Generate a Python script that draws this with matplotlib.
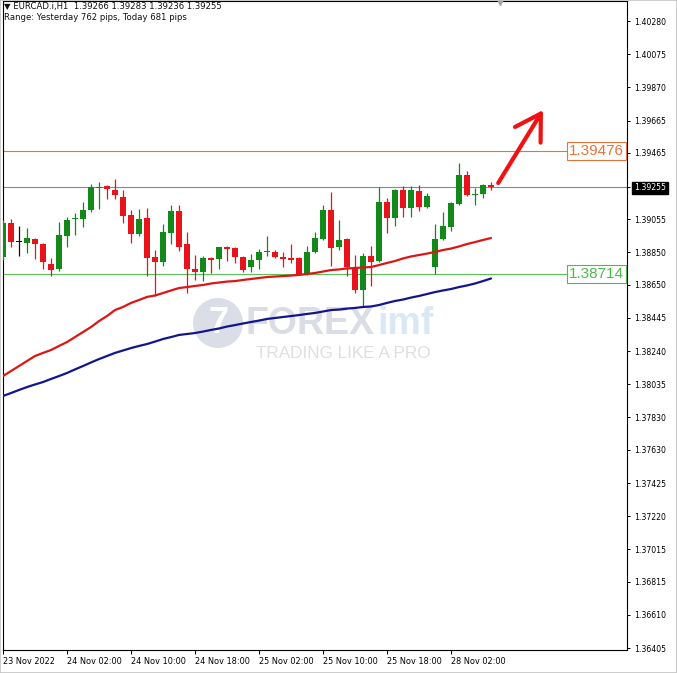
import matplotlib
matplotlib.use("Agg")
import matplotlib.pyplot as plt
import matplotlib.transforms as mtransforms
from matplotlib.patches import Circle, Rectangle
import numpy as np

plt.rcParams['font.family'] = ['DejaVu Sans']

# ---------------- data ----------------
header_line1 = "\u25BC EURCAD.i,H1  1.39266 1.39283 1.39236 1.39255"
header_line2 = "Range: Yesterday 762 pips, Today 681 pips"

opens = [1.38822, 1.39032, 1.38914, 1.38908, 1.38933, 1.38902, 1.38779, 1.38748, 1.38952, 1.39057,
         1.39057, 1.39112, 1.39248, 1.39261, 1.39236, 1.39193, 1.39081, 1.38964, 1.39063, 1.38822,
         1.38791, 1.38970, 1.39106, 1.38902, 1.38748, 1.38729, 1.38816, 1.38809, 1.38884, 1.38877,
         1.38822, 1.38760, 1.38803, 1.38853, 1.38853, 1.38822, 1.38816, 1.38816, 1.38717, 1.38853,
         1.38933, 1.39112, 1.38884, 1.38933, 1.38760, 1.38618, 1.38828, 1.38797, 1.39162, 1.39063,
         1.39236, 1.39125, 1.39230, 1.39131, 1.38760, 1.38933, 1.39007, 1.39149, 1.39328, 1.39205,
         1.39211, 1.39266]
highs = [1.39050, 1.39057, 1.39013, 1.39001, 1.38939, 1.38908, 1.38816, 1.39038, 1.39069, 1.39094,
         1.39162, 1.39273, 1.39285, 1.39267, 1.39304, 1.39236, 1.39112, 1.39118, 1.39125, 1.38865,
         1.39026, 1.39143, 1.39143, 1.38976, 1.38834, 1.38828, 1.38822, 1.38884, 1.38890, 1.38884,
         1.38828, 1.38840, 1.38871, 1.38952, 1.38865, 1.38853, 1.38902, 1.38822, 1.38890, 1.38976,
         1.39143, 1.39223, 1.39050, 1.38939, 1.38834, 1.38847, 1.38890, 1.39254, 1.39186, 1.39242,
         1.39261, 1.39261, 1.39267, 1.39217, 1.39026, 1.39100, 1.39161, 1.39403, 1.39353, 1.39248,
         1.39270, 1.39283]
lows = [1.38803, 1.38883, 1.38828, 1.38847, 1.38810, 1.38748, 1.38704, 1.38735, 1.38884, 1.38958,
        1.39007, 1.39100, 1.39118, 1.39180, 1.39180, 1.39032, 1.38908, 1.38952, 1.38704, 1.38581,
        1.38766, 1.38902, 1.38859, 1.38599, 1.38680, 1.38673, 1.38723, 1.38748, 1.38797, 1.38785,
        1.38729, 1.38729, 1.38748, 1.38828, 1.38816, 1.38760, 1.38785, 1.38710, 1.38710, 1.38847,
        1.38927, 1.38766, 1.38865, 1.38704, 1.38599, 1.38519, 1.38643, 1.38791, 1.38970, 1.39013,
        1.39069, 1.39069, 1.39106, 1.39125, 1.38717, 1.38927, 1.38982, 1.39143, 1.39199, 1.39143,
        1.39186, 1.39236]
closes = [1.39032, 1.38914, 1.38914, 1.38939, 1.38902, 1.38791, 1.38741, 1.38958, 1.39050, 1.39058,
          1.39112, 1.39254, 1.39254, 1.39242, 1.39205, 1.39075, 1.38964, 1.39057, 1.38816, 1.38791,
          1.38976, 1.39106, 1.38884, 1.38748, 1.38729, 1.38816, 1.38803, 1.38884, 1.38871, 1.38822,
          1.38741, 1.38803, 1.38853, 1.38859, 1.38822, 1.38809, 1.38803, 1.38717, 1.38853, 1.38939,
          1.39112, 1.38877, 1.38927, 1.38760, 1.38618, 1.38828, 1.38791, 1.39162, 1.39063, 1.39236,
          1.39125, 1.39236, 1.39131, 1.39199, 1.38933, 1.39013, 1.39155, 1.39328, 1.39205, 1.39211,
          1.39267, 1.39255]

ma_fast = [1.38086, 1.38117, 1.38148, 1.38179, 1.38210, 1.38229, 1.38247, 1.38272, 1.38296, 1.38327,
           1.38358, 1.38389, 1.38426, 1.38457, 1.38494, 1.38513, 1.38538, 1.38556, 1.38575, 1.38584,
           1.38599, 1.38615, 1.38630, 1.38636, 1.38643, 1.38649, 1.38658, 1.38664, 1.38670, 1.38673,
           1.38680, 1.38686, 1.38692, 1.38698, 1.38701, 1.38704, 1.38707, 1.38711, 1.38717, 1.38723,
           1.38732, 1.38741, 1.38745, 1.38751, 1.38754, 1.38757, 1.38760, 1.38772, 1.38785, 1.38797,
           1.38813, 1.38825, 1.38834, 1.38843, 1.38853, 1.38865, 1.38874, 1.38887, 1.38902, 1.38914,
           1.38927, 1.38939]
ma_slow = [1.37963, 1.37981, 1.38000, 1.38018, 1.38034, 1.38049, 1.38068, 1.38086, 1.38105, 1.38127,
           1.38148, 1.38170, 1.38191, 1.38210, 1.38229, 1.38244, 1.38259, 1.38272, 1.38284, 1.38299,
           1.38315, 1.38327, 1.38340, 1.38346, 1.38352, 1.38361, 1.38371, 1.38380, 1.38392, 1.38401,
           1.38411, 1.38420, 1.38429, 1.38439, 1.38445, 1.38451, 1.38457, 1.38463, 1.38470, 1.38476,
           1.38485, 1.38494, 1.38497, 1.38503, 1.38507, 1.38513, 1.38516, 1.38525, 1.38538, 1.38550,
           1.38559, 1.38571, 1.38581, 1.38593, 1.38605, 1.38615, 1.38624, 1.38636, 1.38646, 1.38658,
           1.38673, 1.38689]

resistance_level = 1.39476
support_level = 1.38714
last_price = 1.39255

ytick_values = [1.40280, 1.40075, 1.39870, 1.39665, 1.39465, 1.39255, 1.39055, 1.38850, 1.38650,
                1.38445, 1.38240, 1.38035, 1.37830, 1.37630, 1.37425, 1.37220, 1.37015, 1.36815,
                1.36610, 1.36405]
xtick_bars = [0, 8, 16, 24, 32, 40, 48, 56]
xtick_labels = ["23 Nov 2022", "24 Nov 02:00", "24 Nov 10:00", "24 Nov 18:00",
                "25 Nov 02:00", "25 Nov 10:00", "25 Nov 18:00", "28 Nov 02:00"]

arrow_start = (61.9, 1.39279)
arrow_end = (67.5, 1.39730)

# ---------------- figure ----------------
W, H = 677, 673
fig = plt.figure(figsize=(W / 100, H / 100), dpi=100)
fig.patch.set_facecolor('white')
ax = fig.add_axes([3 / W, 1 - 650 / H, 624 / W, 649 / H])
ax.set_xlim(0, 78)
ax.set_ylim(1.36393, 1.40404)

GREEN = '#13891a'
RED = '#e8141c'

x = np.arange(len(opens))
o = np.array(opens); h = np.array(highs); l = np.array(lows); c = np.array(closes)
cols = np.where(c > o, GREEN, np.where(c < o, RED, '#111111'))

# horizontal levels
ax.axhline(resistance_level, color='#e8733a', lw=0.8, zorder=2)
ax.axhline(last_price, color='#7d8a97', lw=0.8, zorder=2)
ax.axhline(support_level, color='#5cc05c', lw=0.8, zorder=2)

# candles
ax.vlines(x, l, h, colors=cols, lw=0.9, zorder=3)
body_bottom = np.minimum(o, c)
body_h = np.maximum(np.abs(c - o), 0.00004)
ax.bar(x, body_h, bottom=body_bottom, width=0.7, color=cols, lw=0, zorder=3)

# moving averages
ax.plot(x, ma_fast, color='#de1515', lw=1.6, zorder=4, solid_capstyle='round')
ax.plot(x, ma_slow, color='#14148f', lw=1.6, zorder=4, solid_capstyle='round')

# level labels
blend = mtransforms.blended_transform_factory(ax.transAxes, ax.transData)
for val, col in [(resistance_level, '#e8733a'), (support_level, '#4cba4c')]:
    ax.annotate(f"{val:.5f}", xy=(1, val), xycoords=blend, xytext=(-3, 0),
                textcoords='offset pixels', ha='right', va='center',
                fontsize=11, family='Liberation Sans', color=col, zorder=6,
                bbox=dict(boxstyle='square,pad=0.13', fc='white', ec=col, lw=0.8))

# arrow
ax.annotate('', xy=arrow_end, xytext=arrow_start,
            arrowprops=dict(arrowstyle='->,head_length=1.2,head_width=0.72',
                            color='#f01212', lw=3.0, shrinkA=0, shrinkB=0,
                            mutation_scale=15, capstyle='round', joinstyle='round'),
            annotation_clip=False, zorder=7)

# watermark
def fx(px):
    return px / W

def fy(py):
    return 1 - py / H

ax.add_patch(Circle((218, H - 323), 25, transform=mtransforms.IdentityTransform(),
                    fc='#dcdee7', ec='none', zorder=1))
ax.text(fx(219), fy(323), "7", transform=fig.transFigure, ha='center', va='center',
        fontsize=26, fontweight='bold', family='Liberation Sans', color='white', zorder=1)
ax.text(fx(246), fy(324), "FOREX", transform=fig.transFigure, ha='left', va='center',
        fontsize=27, fontweight='bold', family='Liberation Sans', color='#dadce6', zorder=1)
ax.text(fx(377), fy(324), "imf", transform=fig.transFigure, ha='left', va='center',
        fontsize=27, fontweight='bold', family='Liberation Sans', color='#d9e8f4', zorder=1)
ax.text(fx(256), fy(354), "TRADING LIKE A PRO", transform=fig.transFigure, ha='left',
        va='center', fontsize=12.3, family='Liberation Sans', color='#dfdfdf', zorder=1)

# header
fig.text(fx(4), fy(7), header_line1, ha='left', va='center', fontsize=6.1, color='#111111')
fig.text(fx(4), fy(18), header_line2, ha='left', va='center', fontsize=6.1, color='#111111')

# shift marker
ax.plot([(500 - 3) / 624], [1.0], marker='v', ms=6, color='#a5a5a5',
        transform=ax.transAxes, clip_on=False, zorder=8)

# axes styling
for sp in ax.spines.values():
    sp.set_color('black')
    sp.set_linewidth(0.8)
ax.yaxis.tick_right()
ax.set_yticks(ytick_values)
ax.set_yticklabels([f"{v:.5f}" for v in ytick_values])
ax.tick_params(axis='y', direction='out', length=2.5, width=0.7, pad=2.5,
               labelsize=5.6, colors='black')
ax.set_xticks(xtick_bars)
ax.set_xticklabels(xtick_labels, ha='left')
ax.tick_params(axis='x', direction='out', length=3, width=0.7, pad=2,
               labelsize=5.9, colors='black')
for lbl, v in zip(ax.get_yticklabels(), ytick_values):
    if abs(v - last_price) < 1e-9:
        lbl.set_color('white')
        lbl.set_bbox(dict(fc='black', ec='black', pad=1.3))

fig.add_artist(Rectangle((0, 0), 1, 1, transform=fig.transFigure, fill=False,
                         ec='#c4c4c4', lw=1.2))

fig.savefig('out.png', dpi=100, facecolor='white')
